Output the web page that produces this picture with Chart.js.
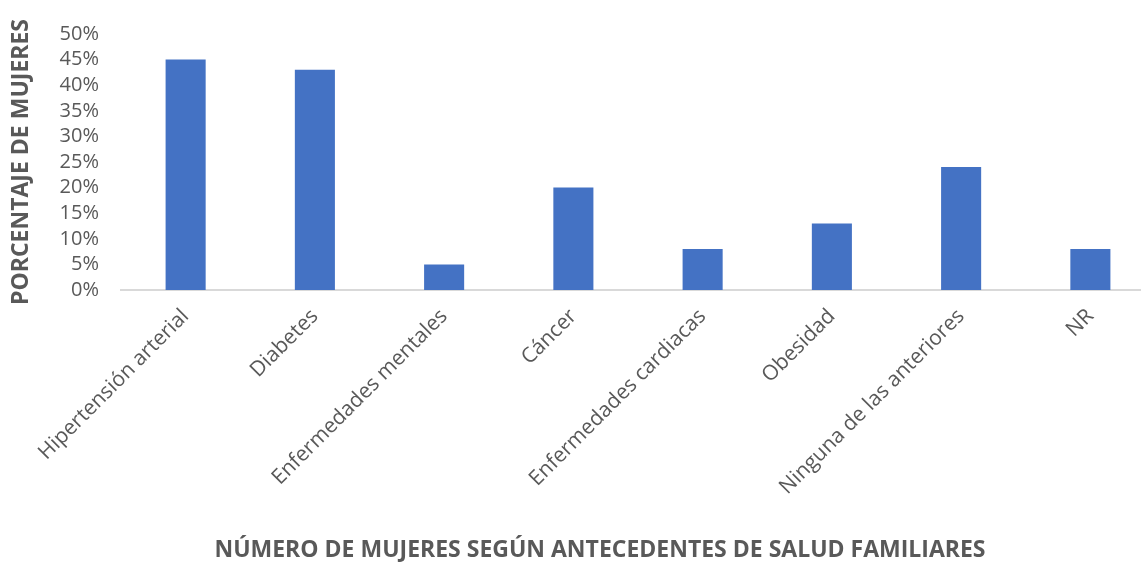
<!DOCTYPE html>
<html>
<head>
<meta charset="utf-8">
<script src="https://cdn.jsdelivr.net/npm/chart.js@4"></script>
<style>
html,body{margin:0;padding:0;background:#fff;overflow:hidden;width:1141px;height:562px;}
#wrap{position:absolute;left:0;top:0;width:1156px;height:562px;}
</style>
</head>
<body>
<div id="wrap"><canvas id="c" width="1156" height="562"></canvas></div>
<script>
const categories = ["Hipertensión arterial","Diabetes","Enfermedades mentales","Cáncer","Enfermedades cardiacas","Obesidad","Ninguna de las anteriores","NR"];
const percentages = [45,43,5,20,8,13,24,8];
const yTicks = [0,5,10,15,20,25,30,35,40,45,50];
const yTitle = "PORCENTAJE DE MUJERES";
const xTitle = "NÚMERO DE MUJERES SEGÚN ANTECEDENTES DE SALUD FAMILIARES";

const txt = "#595959";
const font = "'Open Sans', 'Noto Sans', sans-serif";

const xTitlePlugin = {
  id: 'xTitle',
  afterDraw(chart) {
    const ctx = chart.ctx;
    ctx.save();
    ctx.font = "bold 23px " + font;
    ctx.fillStyle = txt;
    ctx.textAlign = 'center';
    ctx.textBaseline = 'middle';
    ctx.fillText(xTitle, 600, 550);
    ctx.restore();
  }
};

new Chart(document.getElementById('c'), {
  type: 'bar',
  data: {
    labels: categories,
    datasets: [{
      data: percentages,
      backgroundColor: '#4472C4',
      borderWidth: 0,
      barPercentage: 0.31,
      categoryPercentage: 1
    }]
  },
  options: {
    responsive: false,
    animation: false,
    layout: {padding: {top: 28, right: 1, left: 8, bottom: 48}},
    plugins: {legend: {display: false}, tooltip: {enabled: false}},
    scales: {
      x: {
        afterFit: (s) => { s.height = 224; },
        grid: {display: false, drawTicks: false},
        border: {display: true, color: '#d9d9d9', width: 2},
        ticks: {color: txt, font: {family: font, size: 21}, maxRotation: 45, minRotation: 45, padding: 14, autoSkip: false}
      },
      y: {
        min: 0, max: 50,
        afterBuildTicks: (ax) => { ax.ticks = yTicks.map(v => ({value: v})); },
        grid: {display: false, drawTicks: false},
        border: {display: false},
        ticks: {color: txt, font: {family: font, size: 20}, padding: 22, autoSkip: false, callback: v => v + '%'},
        title: {display: true, text: yTitle, color: txt, font: {family: font, size: 23, weight: 'bold'}, padding: {top: 0, bottom: 2}}
      }
    }
  },
  plugins: [xTitlePlugin]
});
</script>
</body>
</html>
